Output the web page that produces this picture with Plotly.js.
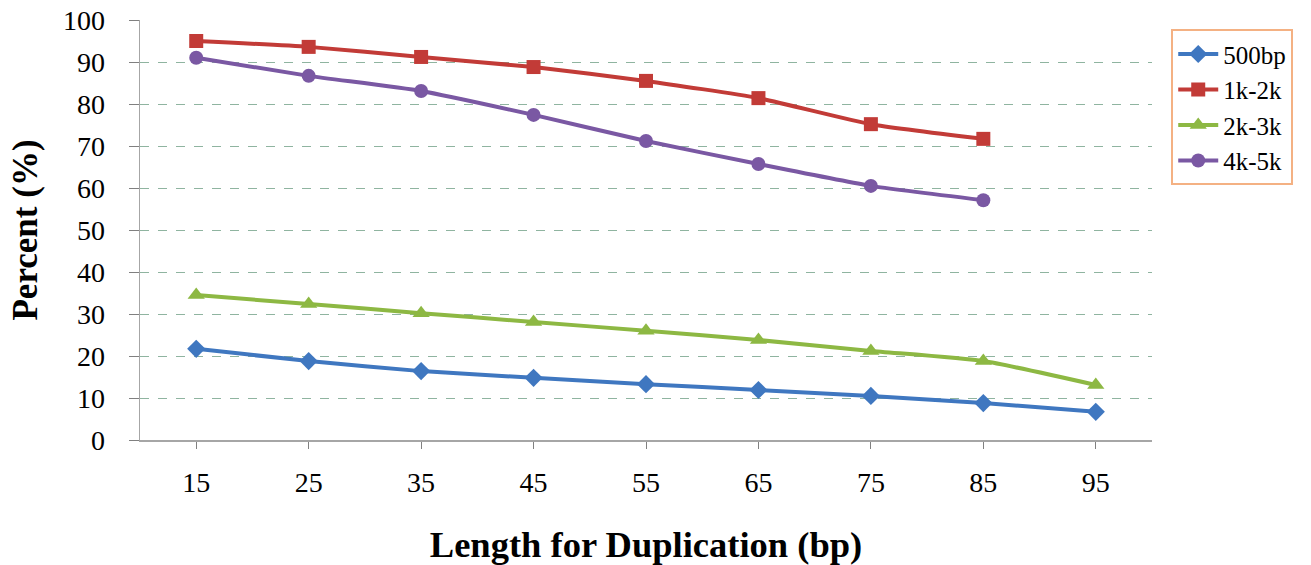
<!DOCTYPE html>
<html>
<head>
<meta charset="utf-8">
<script src="https://cdn.plot.ly/plotly-3.0.1.min.js"></script>
<style>html,body{margin:0;padding:0;background:#fff;}#chart{width:1311px;height:565px;}</style>
</head>
<body>
<div id="chart"></div>
<script>
const categories = ["15","25","35","45","55","65","75","85","95"];
const s500bp = [21.7, 18.8, 16.4, 14.8, 13.3, 11.9, 10.5, 8.8, 6.7];
const s1k2k  = [95.0, 93.6, 91.2, 88.8, 85.5, 81.4, 75.2, 71.7];
const s2k3k  = [34.5, 32.4, 30.2, 28.1, 26.0, 23.8, 21.2, 18.8, 13.1];
const s4k5k  = [91.0, 86.7, 83.1, 77.4, 71.2, 65.7, 60.5, 57.1];
const seriesNames = ["500bp","1k-2k","2k-3k","4k-5k"];

function tr(name, y, color, symbol, size){
  return {
    type:"scatter", mode:"lines+markers", name:name,
    x: categories.slice(0, y.length), y:y,
    line:{color:color, width:4, shape:"spline", smoothing:0.5},
    marker:{color:color, symbol:symbol, size:size}
  };
}
const data = [
  tr(seriesNames[0], s500bp, "#3f77c0", "diamond", 14),
  tr(seriesNames[1], s1k2k, "#c23b37", "square", 14),
  tr(seriesNames[2], s2k3k, "#8db843", "triangle-up", 15),
  tr(seriesNames[3], s4k5k, "#7a58a3", "circle", 14)
];
const layout = {
  width:1311, height:565,
  margin:{l:140, r:159, t:20, b:125},
  paper_bgcolor:"#fff", plot_bgcolor:"#fff",
  font:{family:"Liberation Serif, Times New Roman, serif", color:"#000"},
  showlegend:true,
  legend:{x:1.019, y:0.978, xanchor:"left", yanchor:"top",
    bordercolor:"#f4b183", borderwidth:2, bgcolor:"#fff",
    font:{size:25, family:"Liberation Serif, serif"}, tracegroupgap:6, itemwidth:40},
  xaxis:{
    type:"category", range:[-0.5, 8.5],
    showline:true, linecolor:"#a6a6a6", linewidth:1.5,
    ticks:"outside", ticklen:7, tickcolor:"#808080",
    showgrid:false, zeroline:false, automargin:false,
    tickfont:{size:28}, ticklabelstandoff:10,
    title:{text:"<b>Length for Duplication (bp)</b>", font:{size:36.5}, standoff:36}
  },
  yaxis:{
    range:[0,100], dtick:10,
    showline:true, linecolor:"#a6a6a6", linewidth:1.5,
    ticks:"outside", ticklen:10, tickcolor:"#808080",
    showgrid:true, gridcolor:"#8fb4a0", griddash:"dash", gridwidth:1,
    zeroline:false, automargin:false,
    tickfont:{size:28}, ticklabelstandoff:18,
    title:{text:"<b>Percent (%)</b>", font:{size:35}, standoff:14}
  }
};
Plotly.newPlot("chart", data, layout, {displayModeBar:false, staticPlot:true});
</script>
</body>
</html>
